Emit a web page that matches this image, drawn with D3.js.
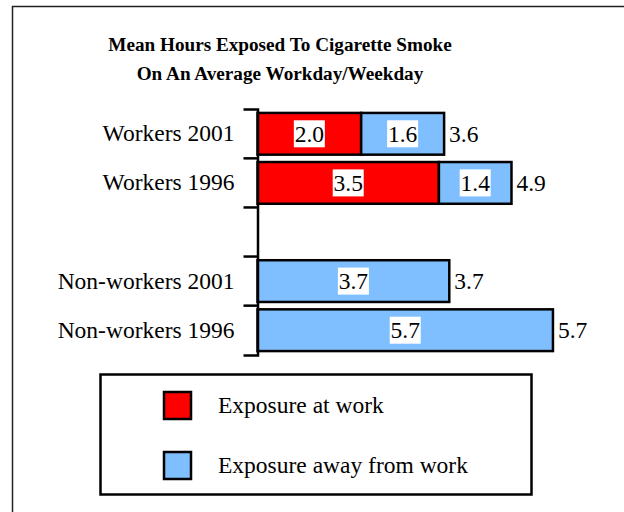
<!DOCTYPE html>
<html>
<head>
<meta charset="utf-8">
<script src="https://cdn.jsdelivr.net/npm/d3@7"></script>
<style>
  html, body { margin: 0; padding: 0; background: #fff; }
  svg { display: block; }
  text { font-family: "Liberation Serif", "Times New Roman", serif; }
</style>
</head>
<body>
<svg id="chart" width="624" height="512"></svg>
<script>
// ---- data ----
const categories = ["Workers 2001", "Workers 1996", "", "Non-workers 2001", "Non-workers 1996"];
const atWork     = [2.0, 3.5, null, 0, 0];
const awayWork   = [1.6, 1.4, null, 3.7, 5.7];
const totals     = [3.6, 4.9, null, 3.7, 5.7];
const seriesNames = ["Exposure at work", "Exposure away from work"];
const seriesColors = ["#FF0000", "#80BFFF"];
const titleLines = ["Mean Hours Exposed To Cigarette Smoke", "On An Average Workday/Weekday"];

const FONT = '"Liberation Serif", "Times New Roman", serif';
const svg = d3.select("#chart");

// outer frame (extends past the right and bottom edges)
svg.append("rect")
  .attr("x", 12.5).attr("y", 6.5)
  .attr("width", 640).attr("height", 540)
  .attr("fill", "none").attr("stroke", "#222").attr("stroke-width", 1.5);

// title
svg.append("g").selectAll("text").data(titleLines).join("text")
  .attr("x", 280).attr("y", (d, i) => 51 + i * 28.5)
  .attr("text-anchor", "middle")
  .attr("font-family", FONT)
  .attr("font-weight", "bold")
  .attr("font-size", 19.2)
  .attr("fill", "#000")
  .text(d => d);

// scales
const x = d3.scaleLinear().domain([0, 6]).range([257.5, 568.5]);
const y = d3.scaleBand().domain(categories.map((c, i) => i)).range([109, 355]).paddingInner(0.15).paddingOuter(0.08);

const rows = categories.map((c, i) => ({ i, cat: c, work: atWork[i], away: awayWork[i], total: totals[i] }))
  .filter(d => d.total !== null);

const g = svg.append("g");

// bars: at work
g.selectAll("rect.work").data(rows.filter(d => d.work > 0)).join("rect")
  .attr("class", "work")
  .attr("x", x(0)).attr("y", d => y(d.i))
  .attr("width", d => x(d.work) - x(0)).attr("height", y.bandwidth())
  .attr("fill", seriesColors[0]).attr("stroke", "#000").attr("stroke-width", 2.5);

// bars: away from work
g.selectAll("rect.away").data(rows).join("rect")
  .attr("class", "away")
  .attr("x", d => x(d.work)).attr("y", d => y(d.i))
  .attr("width", d => x(d.work + d.away) - x(d.work)).attr("height", y.bandwidth())
  .attr("fill", seriesColors[1]).attr("stroke", "#000").attr("stroke-width", 2.5);

// segment value labels with white backgrounds
const segs = [];
rows.forEach(d => {
  if (d.work > 0) segs.push({ i: d.i, v: d.work, x0: 0, x1: d.work });
  segs.push({ i: d.i, v: d.away, x0: d.work, x1: d.work + d.away });
});
const fs = 23.5;
const segG = g.selectAll("g.seg").data(segs).join("g").attr("class", "seg")
  .attr("transform", d => `translate(${(x(d.x0) + x(d.x1)) / 2},${y(d.i) + y.bandwidth() / 2})`);
segG.append("rect")
  .attr("x", -15.5).attr("y", -13.5).attr("width", 31).attr("height", 27)
  .attr("fill", "#fff");
segG.append("text")
  .attr("text-anchor", "middle").attr("dy", "0.35em")
  .attr("font-family", FONT)
  .attr("font-size", fs).attr("fill", "#000")
  .text(d => d.v.toFixed(1));

// totals
g.selectAll("text.total").data(rows).join("text")
  .attr("class", "total")
  .attr("x", d => x(d.total) + 5).attr("y", d => y(d.i) + y.bandwidth() / 2)
  .attr("dy", "0.35em").attr("font-family", FONT).attr("font-size", fs).attr("fill", "#000")
  .text(d => d.total.toFixed(1));

// axis
const axis = d3.axisLeft(y).tickSizeInner(0).tickSizeOuter(14).tickPadding(23)
  .tickFormat(i => categories[i]);
const ag = svg.append("g").attr("transform", `translate(${x(0)},0)`).call(axis)
  .attr("font-family", FONT).attr("font-size", fs);
ag.select(".domain").attr("stroke", "#000").attr("stroke-width", 2.5);
ag.selectAll(".tick text").attr("fill", "#000");
// interior tick marks between categories
const step = y.step();
const bounds = categories.slice(1).map((c, i) => y(i + 1) - step * y.paddingInner() / 2);
ag.selectAll("line.between").data(bounds).join("line")
  .attr("class", "between")
  .attr("x1", -14).attr("x2", 0).attr("y1", d => d).attr("y2", d => d)
  .attr("stroke", "#000").attr("stroke-width", 2.5);

// legend
const lg = svg.append("g");
lg.append("rect").attr("x", 100.5).attr("y", 374.5).attr("width", 431).attr("height", 120)
  .attr("fill", "#fff").attr("stroke", "#000").attr("stroke-width", 2.5);
const li = lg.selectAll("g.li").data(seriesNames).join("g").attr("class", "li")
  .attr("transform", (d, i) => `translate(0,${i * 60})`);
li.append("rect").attr("x", 164).attr("y", 392).attr("width", 27).attr("height", 27)
  .attr("fill", (d, i) => seriesColors[i]).attr("stroke", "#000").attr("stroke-width", 2.5);
li.append("text").attr("x", 218).attr("y", 413).attr("font-family", FONT).attr("font-size", fs).attr("fill", "#000")
  .text(d => d);
</script>
</body>
</html>
